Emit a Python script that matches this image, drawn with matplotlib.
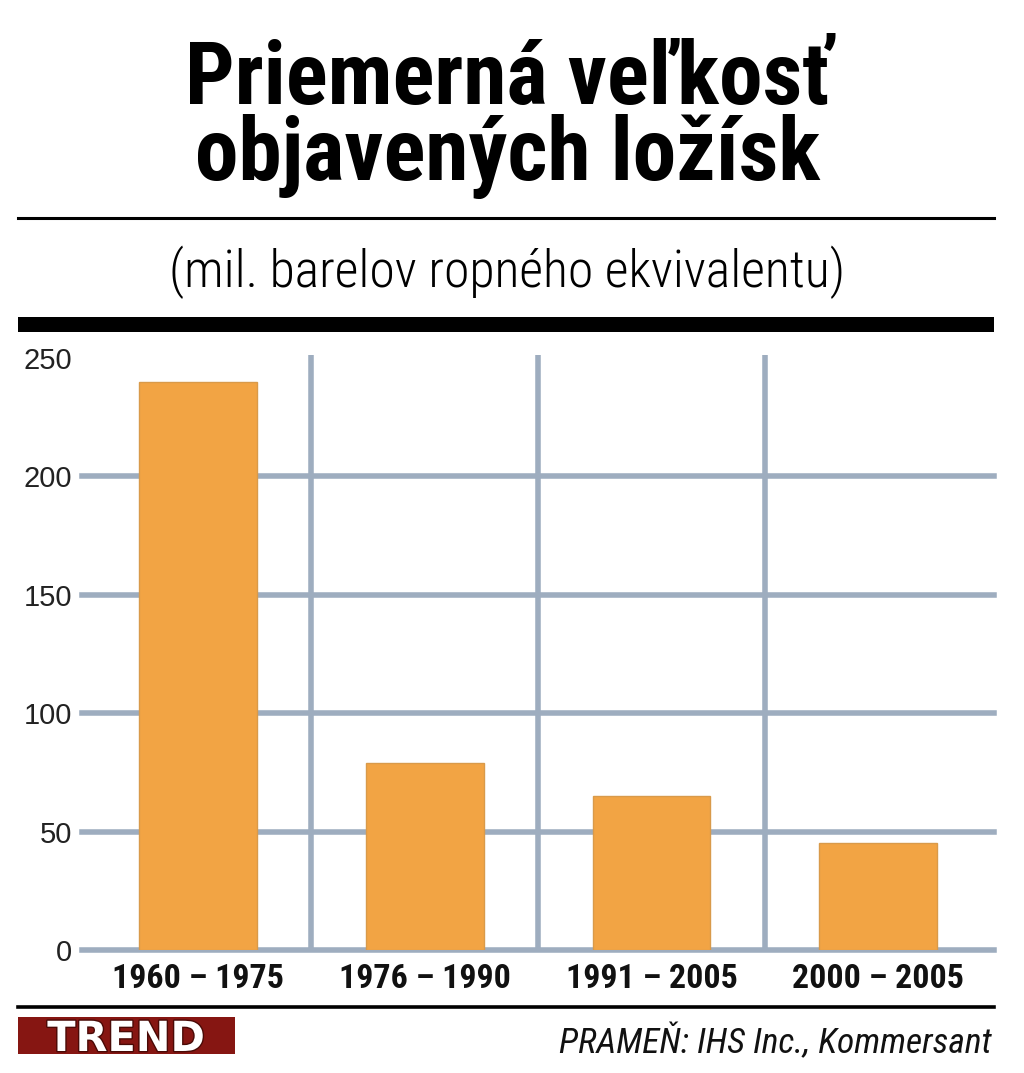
import matplotlib
matplotlib.use("Agg")
import matplotlib.pyplot as plt
from matplotlib.patches import Rectangle
from matplotlib.lines import Line2D
from matplotlib import font_manager
import matplotlib.patheffects as pe

# data
periods = ["1960 – 1975", "1976 – 1990", "1991 – 2005", "2000 – 2005"]
avg_size = [240, 79, 65, 45]
yticks = [0, 50, 100, 150, 200, 250]

title_lines = ["Priemerná veľkosť", "objavených ložísk"]
subtitle = "(mil. barelov ropného ekvivalentu)"
source = "PRAMEŇ: IHS Inc., Kommersant"
logo = "TREND"

# pick a condensed face if one is installed
names = {f.name for f in font_manager.fontManager.ttflist}
cond = "DejaVu Sans"
for cand in ["Roboto Condensed", "Fira Sans Condensed", "Barlow Semi Condensed", "Archivo Narrow"]:
    if cand in names:
        cond = cand
        break
fam = [cond, "DejaVu Sans"]
tick_fam = ["Liberation Sans", "DejaVu Sans"]

W, H = 1024, 1073
fig = plt.figure(figsize=(W / 100, H / 100), dpi=100)
renderer = fig.canvas.get_renderer()


def fx(px):
    return px / W


def fy(py):
    return 1 - py / H


def fit(t, width_px):
    # scale font so the text is width_px wide
    for _ in range(3):
        w = t.get_window_extent(renderer).width
        t.set_fontsize(t.get_fontsize() * width_px / w)


grid_c = "#9eadbf"
bar_c = "#f2a444"

ax = fig.add_axes([fx(82), fy(950), fx(994) - fx(82), (950 - 355) / H])
x = range(len(periods))
ax.bar(x, avg_size, width=0.52, color=bar_c, edgecolor="#d99a4a", linewidth=1.0, zorder=3)
ax.set_xlim(-0.512, 3.511)
ax.set_ylim(0, 251.3)
for v in yticks[:-1]:
    ax.axhline(v, color=grid_c, lw=4.0, zorder=1, clip_on=False)
for b in [0.5, 1.5, 2.5]:
    ax.axvline(b, color=grid_c, lw=4.0, zorder=1)
ax.set_yticks(yticks)
ax.set_yticklabels([str(t) for t in yticks], family=tick_fam, fontsize=21, color="#222222")
ax.set_xticks(list(x))
ax.set_xticklabels(periods, family=fam, fontsize=20, fontweight="bold", color="#111111")
ax.tick_params(axis="y", length=0, pad=7)
ax.tick_params(axis="x", length=0, pad=9)
for s in ax.spines.values():
    s.set_visible(False)
fig.canvas.draw()
xl = ax.get_xticklabels()
fit(xl[0], 172)
for lab in xl[1:]:
    lab.set_fontsize(xl[0].get_fontsize())

# title block
t1 = fig.text(fx(508), fy(104), title_lines[0], ha="center", va="baseline", family=fam,
              fontsize=60, fontweight="bold")
fit(t1, 645)
t2 = fig.text(fx(508), fy(180), title_lines[1], ha="center", va="baseline", family=fam,
              fontsize=t1.get_fontsize(), fontweight="bold")
fig.add_artist(Line2D([fx(18), fx(994)], [fy(218), fy(218)], color="black", lw=2.2))
st = fig.text(fx(507), fy(287), subtitle, ha="center", va="baseline", family=fam,
              fontsize=30, fontweight="light")
fit(st, 675)
fig.add_artist(Rectangle((fx(18), fy(332)), fx(994) - fx(18), 15 / H,
                         color="black", lw=0))

# footer
fig.add_artist(Line2D([fx(18), fx(994)], [fy(1007), fy(1007)], color="black", lw=2.6))
fig.add_artist(Rectangle((fx(18), fy(1054)), fx(217), 37 / H, color="#861612", lw=0))
tr = fig.text(fx(126), fy(1035.5), logo, ha="center", va="center_baseline",
              family=["DejaVu Sans"], fontsize=24, fontweight="bold", color="white",
              path_effects=[pe.withStroke(linewidth=2, foreground="#4a0a06")])
fit(tr, 158)
sr = fig.text(fx(992), fy(1053), source, ha="right", va="baseline", family=fam,
              fontsize=22, style="italic", color="#111111")
fit(sr, 432)

fig.savefig("out.png", dpi=100, facecolor="white")
